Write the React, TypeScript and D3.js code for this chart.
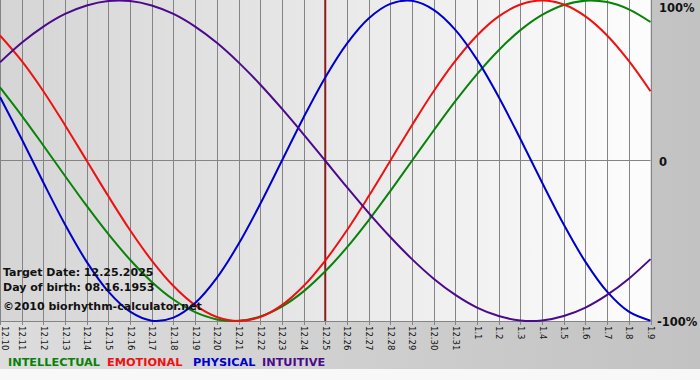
import React from "react";
import * as d3 from "d3";

const dayLabels = [
  "12.10", "12.11", "12.12", "12.13", "12.14", "12.15", "12.16", "12.17", "12.18", "12.19",
  "12.20", "12.21", "12.22", "12.23", "12.24", "12.25", "12.26", "12.27", "12.28", "12.29",
  "12.30", "12.31", "1.1", "1.2", "1.3", "1.4", "1.5", "1.6", "1.7", "1.8", "1.9",
];

const physical = [
  0.398, 0.136, -0.136, -0.398, -0.631, -0.817, -0.942, -0.998, -0.979, -0.888,
  -0.731, -0.52, -0.27, 0, 0.27, 0.52, 0.731, 0.888, 0.979, 0.998,
  0.942, 0.817, 0.631, 0.398, 0.136, -0.136, -0.398, -0.631, -0.817, -0.942, -0.998,
];
const emotional = [
  0.782, 0.623, 0.434, 0.222, 0, -0.222, -0.434, -0.623, -0.782, -0.901,
  -0.975, -1.0, -0.975, -0.901, -0.782, -0.623, -0.434, -0.222, 0, 0.222,
  0.434, 0.623, 0.782, 0.901, 0.975, 1.0, 0.975, 0.901, 0.782, 0.623, 0.434,
];
const intellectual = [
  0.458, 0.282, 0.095, -0.095, -0.282, -0.458, -0.618, -0.756, -0.866, -0.945,
  -0.99, -0.999, -0.972, -0.91, -0.815, -0.69, -0.541, -0.372, -0.189, 0,
  0.189, 0.372, 0.541, 0.69, 0.815, 0.91, 0.972, 0.999, 0.99, 0.945, 0.866,
];
const intuitive = [
  0.614, 0.736, 0.837, 0.916, 0.969, 0.997, 0.997, 0.969, 0.916, 0.837,
  0.736, 0.614, 0.476, 0.325, 0.165, 0, -0.165, -0.325, -0.476, -0.614,
  -0.736, -0.837, -0.916, -0.969, -0.997, -0.997, -0.969, -0.916, -0.837, -0.736, -0.614,
];

const targetIndex = 15;
const yTicks = [
  { v: 1, label: "100%" },
  { v: 0, label: "0" },
  { v: -1, label: "-100%" },
];
const infoLines = ["Target Date: 12.25.2025", "Day of birth: 08.16.1953", "©2010 biorhythm-calculator.net"];

const series = [
  { name: "INTELLECTUAL", values: intellectual, color: "#088208", lx: 8 },
  { name: "EMOTIONAL", values: emotional, color: "#ee1111", lx: 107 },
  { name: "PHYSICAL", values: physical, color: "#0000cc", lx: 193 },
  { name: "INTUITIVE", values: intuitive, color: "#4b0a8a", lx: 262 },
];

export default function App() {
  const W = 700, H = 380;
  const plotL = 0, plotR = 650.5, plotT = 0.5, plotB = 321;
  const x = d3.scaleLinear().domain([0, dayLabels.length - 1]).range([plotL, plotR]);
  const y = d3.scaleLinear().domain([-1, 1]).range([plotB, plotT]);
  const line = d3
    .line<number>()
    .x((_, i) => x(i))
    .y((v) => y(v))
    .curve(d3.curveCatmullRom.alpha(0.5));
  const font = "'DejaVu Sans', Verdana, sans-serif";
  const infoY = [276, 291, 310];
  const labelOffset = (v: number) => (v > 0 ? 7.5 : v < 0 ? 1 : 1.5);

  return (
    <svg width={W} height={H} style={{ position: "absolute", left: 0, top: 0 }} fontFamily={font}>
      <defs>
        <linearGradient id="outer" x1="0" x2="1" y1="0" y2="0">
          <stop offset="0" stopColor="#dddddd" />
          <stop offset="1" stopColor="#c2c2c2" />
        </linearGradient>
        <linearGradient id="plotbg" x1="0" x2="1" y1="0" y2="0">
          <stop offset="0" stopColor="#d5d5d5" />
          <stop offset="0.45" stopColor="#e6e6e6" />
          <stop offset="1" stopColor="#fdfdfd" />
        </linearGradient>
        <clipPath id="clip">
          <rect x={plotL} y={-2} width={plotR - plotL + 2} height={plotB + 4} />
        </clipPath>
      </defs>
      <rect x={0} y={0} width={W} height={H} fill="#f8f8f8" />
      <rect x={0} y={0} width={W} height={369} fill="url(#outer)" />
      <rect x={plotL} y={0} width={plotR - plotL} height={plotB} fill="url(#plotbg)" />

      {dayLabels.map((d, i) => (
        <line key={"g" + i} x1={Math.round(x(i)) + 0.5} x2={Math.round(x(i)) + 0.5} y1={0} y2={plotB + 4} stroke="#848484" strokeWidth={1} />
      ))}
      <line x1={plotL} x2={plotR} y1={Math.round(y(0)) - 0.5} y2={Math.round(y(0)) - 0.5} stroke="#848484" strokeWidth={1} />
      <line x1={plotL} x2={plotR} y1={plotB + 0.5} y2={plotB + 0.5} stroke="#848484" strokeWidth={1} />

      {dayLabels.map((d, i) => (
        <text
          key={"t" + i}
          transform={`translate(${Math.max(x(i) + 0.5, 5)},${plotB + 5}) rotate(90)`}
          fontSize={8.5}
          fill="#111"
          dominantBaseline="central"
          textAnchor="start"
        >
          {d}
        </text>
      ))}

      <line x1={x(targetIndex)} x2={x(targetIndex)} y1={0} y2={plotB} stroke="#8b1c1c" strokeWidth={2} />

      <g clipPath="url(#clip)">
        {series.map((s) => (
          <path key={s.name} d={line(s.values) || ""} fill="none" stroke={s.color} strokeWidth={2} />
        ))}
      </g>

      {yTicks.map((t) => (
        <text
          key={t.label}
          x={t.label.startsWith("-") ? 657 : 659}
          y={y(t.v) + labelOffset(t.v)}
          fontSize={11.5}
          fontWeight="bold"
          fill="#111"
          dominantBaseline="middle"
        >
          {t.label}
        </text>
      ))}

      {infoLines.map((l, i) => (
        <text key={l} x={3} y={infoY[i]} fontSize={11} fontWeight="bold" fill="#111">
          {l}
        </text>
      ))}

      {series.map((s) => (
        <text key={"l" + s.name} x={s.lx} y={365.5} fontSize={11.3} fontWeight="bold" fill={s.color}>
          {s.name}
        </text>
      ))}
    </svg>
  );
}
